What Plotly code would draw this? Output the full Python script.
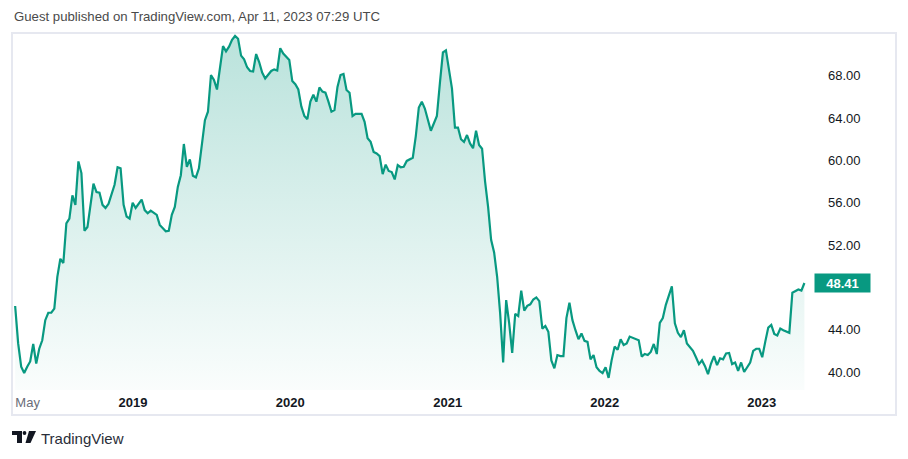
import pandas as pd
import plotly.graph_objects as go

# ---------------- data ----------------
start_date = "2018-04-02"  # first weekly bar (Monday)
week_index = [
    0, 1, 2, 3, 4, 5, 6, 7, 8, 9, 10, 11, 12, 13, 14, 15, 16, 17, 18, 19, 20, 21, 22, 23, 24,
    26, 27, 28, 29, 30, 31, 33, 34, 35, 36, 37, 38, 39, 40, 42, 43, 44, 45, 47, 48, 50, 51,
    52, 53, 54, 55, 56, 57, 58, 59, 60, 61, 62, 63, 64, 65, 66, 67, 69, 70, 71, 72, 73, 74,
    75, 76, 77, 78, 79, 80, 81, 82, 83, 84, 85, 86, 87, 88, 89, 90, 91, 92, 93, 94, 95, 96,
    97, 98, 99, 100, 101, 102, 103, 104, 105, 106, 107, 108, 109, 110, 111, 112, 113, 114,
    115, 116, 117, 118, 119, 120, 121, 122, 123, 124, 125, 126, 127, 128, 129, 130, 132,
    133, 134, 135, 136, 138, 139, 140, 141, 142, 143, 144, 145, 146, 147, 148, 149, 150,
    151, 152, 153, 154, 155, 156, 157, 158, 159, 160, 161, 162, 163, 164, 165, 166, 167,
    168, 169, 170, 171, 172, 173, 174, 175, 176, 177, 178, 179, 180, 181, 182, 183, 184,
    185, 186, 187, 188, 189, 190, 191, 192, 193, 194, 195, 196, 197, 198, 199, 200, 201,
    202, 203, 204, 205, 206, 207, 208, 209, 210, 211, 212, 213, 214, 215, 216, 217, 218,
    219, 220, 221, 222, 223, 224, 225, 226, 227, 228, 229, 230, 231, 232, 233, 234, 235,
    236, 237, 238, 239, 240, 241, 242, 243, 244, 245, 246, 247, 248, 249, 250, 251, 252,
    253, 254, 255, 256, 257, 258, 259, 260, 261, 262,
]
price = [
    46.24, 42.7, 40.5, 39.9, 40.5, 41.0, 42.65, 40.8, 42.2, 43.0, 44.9, 45.6, 45.6, 46.0,
    49.0, 50.7, 50.3, 54.05, 54.5, 56.7, 55.8, 59.9, 58.8, 53.35, 53.7,
    57.8, 57.0, 56.95, 55.8, 55.5, 55.9, 57.7, 59.35, 59.25, 55.8, 54.7, 54.5, 56.0, 55.5,
    56.3, 55.3, 55.0, 55.25, 54.85, 53.9, 53.3, 53.35,
    54.85, 55.6, 57.5, 58.6, 61.55, 59.4, 60.1, 58.55, 58.4, 59.25, 61.45, 63.8, 64.6,
    68.07, 67.6, 66.7, 70.8, 70.3, 70.75, 71.4, 71.76, 71.5,
    69.9, 69.55, 68.8, 68.45, 68.4, 70.05, 69.3, 68.3, 67.75, 68.1, 68.45, 68.6, 68.5,
    70.6, 70.1, 69.8, 69.5, 67.5, 67.2, 66.7, 65.1, 64.2,
    63.9, 65.55, 66.2, 65.55, 66.9, 66.5, 66.4, 65.55, 64.6, 64.75, 66.95, 68.07, 68.17,
    66.65, 66.4, 64.2, 64.4, 64.4,
    64.4, 63.65, 62.1, 61.75, 60.8, 60.65, 60.4, 58.7, 59.6, 59.0, 58.9, 58.2, 59.55,
    59.35, 59.4, 59.95, 60.25,
    62.3, 65.0, 65.55, 64.9, 62.8, 63.5, 64.2, 67.3, 70.2, 70.4, 68.5, 66.8, 63.1, 63.1,
    62.0, 61.75, 62.4,
    61.6, 61.15, 62.8, 61.45, 61.1, 58.0, 55.6, 52.5, 51.3, 49.0, 45.55, 40.9, 46.8, 44.6,
    41.8, 45.5, 45.3,
    47.7, 45.8, 46.25, 46.4, 46.85, 47.05, 46.7, 44.1, 44.35, 43.8, 41.1, 40.35, 41.6,
    41.5, 41.5, 45.1, 46.55,
    44.9, 43.95, 43.1, 43.65, 42.95, 42.85, 41.2, 41.6, 40.45, 40.1, 39.9, 40.45, 39.45,
    41.1, 42.4, 42.1, 43.1,
    42.55, 42.7, 43.35, 43.25, 43.15, 43.0, 41.45, 41.7, 41.6, 41.9, 42.65, 41.7, 44.65,
    45.1, 46.35, 47.2, 48.1,
    44.6, 43.7, 43.3, 43.95, 42.7, 42.35, 42.0, 41.4, 40.75, 41.1, 40.55, 39.8, 40.8, 41.5,
    40.65, 41.3, 41.2,
    41.75, 41.8, 40.75, 40.9, 40.1, 40.9, 40.0, 40.45, 40.9, 42.0, 42.2, 42.2, 41.4, 42.85,
    44.2, 44.45, 43.6,
    43.45, 44.1, 43.95, 43.8, 43.7, 47.5, 47.65, 47.8, 47.7, 48.41,
]
time_tick_dates = ["2018-05-01", "2019-01-01", "2020-01-01", "2021-01-01", "2022-01-01", "2023-01-01"]
time_tick_labels = ["May", "2019", "2020", "2021", "2022", "2023"]
price_ticks = [40, 44, 52, 56, 60, 64, 68]  # 48.00 is hidden behind the last-price label
header_text = "Guest published on TradingView.com, Apr 11, 2023 07:29 UTC"
brand_text = "TradingView"

dates = pd.Timestamp(start_date) + pd.to_timedelta([w * 7 for w in week_index], unit="D")

# ---------------- layout helpers ----------------
W, H = 908, 459
ML, MR, MT, MB = 13, 98, 33, 69
PW, PH = W - ML - MR, H - MT - MB


def pxx(x):
    return (x - ML) / PW


def pxy(y):
    return (H - MB - y) / PH


GREEN = "#089981"
FONT = "Liberation Sans"

fig = go.Figure()
fig.add_trace(go.Scatter(
    x=dates, y=price, mode="lines",
    line=dict(color=GREEN, width=2.2),
    fill="tozeroy",
    fillgradient=dict(type="vertical", start=38.3, stop=max(price),
                      colorscale=[[0, "rgba(8,153,129,0.02)"], [1, "rgba(8,153,129,0.28)"]]),
    hoverinfo="skip", showlegend=False,
))

ticktext = []
for lab in time_tick_labels:
    if lab.isdigit():
        ticktext.append(f"<b>{lab}</b>")
    else:
        ticktext.append(f"<span style='color:#6a6d78'>{lab}</span>")

fig.update_layout(
    width=W, height=H,
    margin=dict(l=ML, r=MR, t=MT, b=MB),
    paper_bgcolor="white", plot_bgcolor="white",
    font=dict(family=FONT, color="#131722"),
    xaxis=dict(
        range=["2018-03-28", "2023-04-23"],
        tickvals=time_tick_dates, ticktext=ticktext,
        showgrid=False, zeroline=False, showline=False, ticks="",
        tickfont=dict(size=13, color="#131722", family=FONT),
        ticklabelstandoff=3, fixedrange=True,
    ),
    yaxis=dict(
        range=[38.3, 72.04], side="right",
        tickvals=price_ticks, ticktext=[f"{v:.2f}" for v in price_ticks],
        showgrid=False, zeroline=False, showline=False, ticks="",
        tickfont=dict(size=13, color="#131722", family=FONT),
        ticklabelstandoff=17, fixedrange=True,
    ),
)

shapes = [
    dict(type="rect", xref="paper", yref="paper",
         x0=pxx(12), x1=pxx(896), y0=pxy(415), y1=pxy(33),
         line=dict(color="#e6e8f0", width=2), fillcolor="rgba(0,0,0,0)", layer="above"),
]


def poly(points):
    return "M " + " L ".join(f"{pxx(a):.5f},{pxy(b):.5f}" for a, b in points) + " Z"


logo_color = "#131722"
shapes.append(dict(type="path", xref="paper", yref="paper",
                   path=poly([(12, 431), (22, 431), (22, 443), (17, 443), (17, 435), (12, 435)]),
                   fillcolor=logo_color, line=dict(width=0)))
shapes.append(dict(type="circle", xref="paper", yref="paper",
                   x0=pxx(22.6), x1=pxx(26.4), y0=pxy(435), y1=pxy(431),
                   fillcolor=logo_color, line=dict(width=0)))
shapes.append(dict(type="path", xref="paper", yref="paper",
                   path=poly([(29, 431), (36, 431), (30.5, 443), (25.5, 443)]),
                   fillcolor=logo_color, line=dict(width=0)))
fig.update_layout(shapes=shapes)

fig.add_annotation(xref="paper", yref="paper", x=pxx(12), y=pxy(17),
                   xanchor="left", yanchor="middle", showarrow=False,
                   text=header_text, font=dict(size=13.2, color="#4a4a4a", family=FONT))
fig.add_annotation(xref="paper", yref="paper", x=pxx(39), y=pxy(438),
                   xanchor="left", yanchor="middle", showarrow=False,
                   text=brand_text, font=dict(size=15, color="#2a2e39", family=FONT))
fig.add_annotation(xref="paper", yref="y", x=pxx(814), y=price[-1],
                   xanchor="left", yanchor="middle", showarrow=False,
                   text=f"<b>{price[-1]:.2f}</b>", bgcolor=GREEN, width=53, height=16,
                   borderpad=1, font=dict(size=13, color="white", family=FONT))

fig.write_html("out.html")
